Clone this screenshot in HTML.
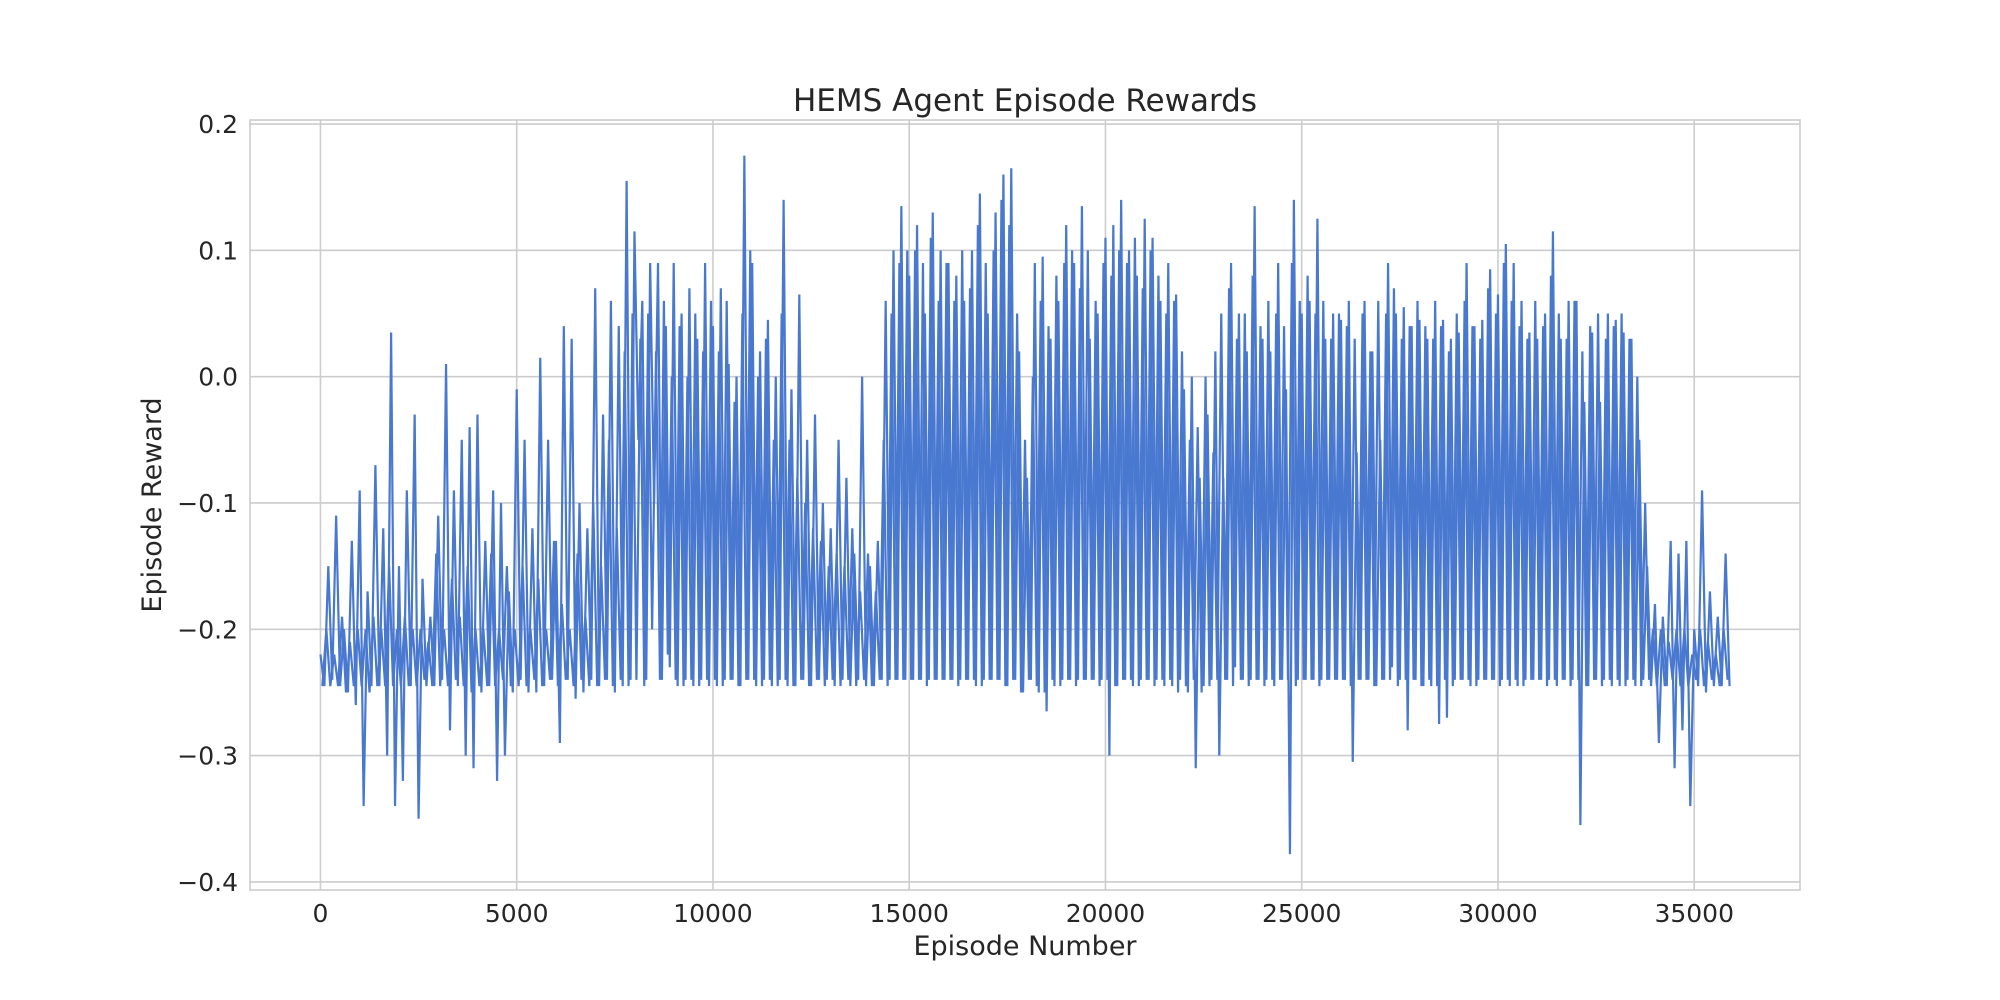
<!DOCTYPE html>
<html><head><meta charset="utf-8"><style>
html,body{margin:0;padding:0;background:#fff;}
svg{display:block;font-family:"DejaVu Sans","Liberation Sans",sans-serif;}
</style></head><body>
<svg id="chart" width="2000" height="1000" viewBox="0 0 2000 1000" xmlns="http://www.w3.org/2000/svg">
<rect x="0" y="0" width="2000" height="1000" fill="#fff"/>
<g id="grid"></g>
<g id="series"></g>
<rect x="250" y="120" width="1550" height="770" fill="none" stroke="#cccccc" stroke-width="1.6"/>
<g id="ticks"></g>
<text x="1025" y="111" text-anchor="middle" font-size="31" fill="#262626">HEMS Agent Episode Rewards</text>
<text x="1025" y="955" text-anchor="middle" font-size="27" fill="#262626">Episode Number</text>
<text transform="translate(161,505) rotate(-90)" text-anchor="middle" font-size="27" fill="#262626">Episode Reward</text>
</svg>
<script>
const xTicks = [0, 5000, 10000, 15000, 20000, 25000, 30000, 35000];
const yTicks = [0.2, 0.1, 0.0, -0.1, -0.2, -0.3, -0.4];
const yTickLabels = ["0.2", "0.1", "0.0", "\u22120.1", "\u22120.2", "\u22120.3", "\u22120.4"];
const episodeStep = 100;
// rewards sampled at episodes 0,100,200,...
const rewards = [
-0.22,-0.245,-0.15,-0.24,-0.11,-0.245,-0.20,-0.25,-0.13,-0.26,
-0.09,-0.34,-0.17,-0.245,-0.07,-0.245,-0.12,-0.30,0.035,-0.34,
-0.15,-0.32,-0.09,-0.245,-0.03,-0.35,-0.16,-0.245,-0.19,-0.245,
-0.11,-0.24,0.01,-0.28,-0.09,-0.245,-0.05,-0.30,-0.04,-0.31,
-0.03,-0.25,-0.13,-0.245,-0.09,-0.32,-0.10,-0.30,-0.17,-0.25,
-0.01,-0.24,-0.05,-0.25,-0.12,-0.25,0.015,-0.245,-0.05,-0.24,
-0.13,-0.29,0.04,-0.24,0.03,-0.255,-0.10,-0.25,-0.12,-0.24,
0.07,-0.245,-0.03,-0.24,0.06,-0.25,0.04,-0.245,0.155,-0.24,
0.115,-0.05,0.06,-0.24,0.09,-0.10,0.09,-0.24,0.04,-0.23,
0.09,-0.245,0.05,-0.24,0.07,-0.245,0.03,-0.24,0.09,-0.245,
0.04,-0.245,0.07,-0.24,0.01,-0.24,0.0,-0.245,0.175,-0.24,
0.09,-0.245,0.02,-0.24,0.045,-0.245,0.0,-0.24,0.14,-0.245,
-0.01,-0.245,0.065,-0.24,-0.05,-0.245,-0.03,-0.24,-0.1,-0.24,
-0.12,-0.245,-0.05,-0.24,-0.08,-0.245,-0.14,-0.24,0.0,-0.245,
-0.15,-0.245,-0.13,-0.24,0.06,-0.24,0.10,-0.24,0.135,-0.24,
0.08,-0.24,0.12,-0.24,0.05,-0.24,0.13,-0.24,0.10,-0.24,
0.09,-0.24,0.08,-0.24,0.06,-0.24,0.10,-0.245,0.145,-0.24,
0.05,-0.24,0.13,-0.24,0.16,-0.245,0.165,-0.24,0.02,-0.25,
-0.08,-0.24,0.09,-0.25,0.095,-0.265,0.03,-0.245,0.06,-0.24,
0.12,-0.24,0.09,-0.24,0.135,-0.24,0.03,-0.24,0.05,-0.24,
0.11,-0.30,0.12,-0.245,0.14,-0.24,0.10,-0.245,0.08,-0.24,
0.125,-0.24,0.11,-0.24,0.06,-0.245,0.09,-0.245,0.065,-0.24,
-0.01,-0.25,0.0,-0.31,-0.08,-0.245,-0.03,-0.24,0.02,-0.30,
-0.08,-0.24,0.09,-0.23,0.05,-0.24,0.02,-0.24,0.135,-0.24,
0.03,-0.24,0.02,-0.245,0.09,-0.24,-0.01,-0.378,0.14,-0.24,
0.05,-0.24,0.06,-0.24,0.125,-0.24,0.03,-0.24,0.05,-0.24,
0.045,-0.24,0.06,-0.305,-0.06,-0.24,0.06,-0.24,0.02,-0.245,
-0.05,-0.24,0.09,-0.23,0.05,-0.24,0.055,-0.28,0.04,-0.24,
0.045,-0.245,0.03,-0.245,0.06,-0.275,0.045,-0.27,0.03,-0.24,
0.035,-0.24,0.09,-0.245,0.04,-0.24,0.045,-0.24,0.085,-0.24,
0.065,-0.24,0.105,-0.245,0.09,-0.245,0.06,-0.24,0.035,-0.24,
0.03,-0.24,0.05,-0.24,0.115,-0.245,0.03,-0.24,0.06,-0.24,
0.06,-0.355,-0.02,-0.245,0.035,-0.24,-0.02,-0.24,0.05,-0.245,
0.045,-0.245,0.035,-0.24,0.03,-0.245,-0.05,-0.24,-0.15,-0.245,
-0.18,-0.29,-0.19,-0.245,-0.13,-0.31,-0.14,-0.28,-0.13,-0.34,
-0.20,-0.245,-0.09,-0.25,-0.17,-0.245,-0.19,-0.245,-0.14,-0.245
];
// rewards sampled at episodes 50,150,250,...
const rewardsMid = [
-0.245,-0.2,-0.245,-0.22,-0.245,-0.19,-0.25,-0.21,-0.245,-0.2,
-0.245,-0.2,-0.25,-0.19,-0.245,-0.2,-0.245,-0.15,-0.245,-0.2,
-0.245,-0.19,-0.245,-0.2,-0.245,-0.2,-0.24,-0.21,-0.245,-0.14,
-0.245,-0.2,-0.245,-0.16,-0.24,-0.19,-0.245,-0.15,-0.25,-0.2,
-0.245,-0.2,-0.245,-0.14,-0.245,-0.2,-0.24,-0.15,-0.245,-0.2,
-0.245,-0.15,-0.245,-0.2,-0.24,-0.16,-0.245,-0.2,-0.24,-0.13,
-0.245,-0.18,-0.24,-0.2,-0.245,-0.14,-0.24,-0.19,-0.245,-0.1,
-0.245,-0.15,-0.24,-0.05,-0.245,-0.12,-0.24,0.02,-0.245,0.05,
-0.24,0.03,-0.245,0.05,-0.2,0.02,-0.24,0.06,-0.22,0.0,
-0.24,0.04,-0.245,0.0,-0.24,0.05,-0.245,0.02,-0.24,0.06,
-0.24,0.02,-0.245,0.06,-0.24,-0.02,-0.245,0.05,-0.24,0.1,
-0.24,0.0,-0.245,0.03,-0.24,-0.05,-0.245,0.05,-0.24,-0.05,
-0.245,-0.08,-0.24,-0.1,-0.245,-0.12,-0.24,-0.13,-0.245,-0.15,
-0.24,-0.14,-0.245,-0.15,-0.24,-0.12,-0.245,-0.17,-0.24,-0.14,
-0.245,-0.17,-0.24,-0.05,-0.245,0.05,-0.24,0.09,-0.24,0.1,
-0.24,0.1,-0.24,0.09,-0.245,0.11,-0.24,0.06,-0.24,0.09,
-0.24,0.06,-0.245,0.1,-0.24,0.07,-0.24,0.12,-0.245,0.09,
-0.24,0.1,-0.24,0.14,-0.245,0.12,-0.24,0.05,-0.25,-0.05,
-0.24,0.0,-0.245,0.06,-0.25,0.04,-0.24,0.08,-0.245,0.09,
-0.24,0.1,-0.245,0.07,-0.24,0.1,-0.24,0.06,-0.245,0.09,
-0.24,0.08,-0.245,0.1,-0.24,0.09,-0.24,0.11,-0.245,0.07,
-0.24,0.1,-0.245,0.08,-0.24,0.05,-0.24,0.06,-0.25,0.02,
-0.245,-0.05,-0.24,-0.04,-0.25,0.0,-0.245,-0.06,-0.24,0.05,
-0.24,0.07,-0.245,0.03,-0.24,0.05,-0.245,0.08,-0.24,0.04,
-0.245,0.06,-0.24,0.05,-0.24,0.04,-0.24,0.09,-0.245,0.06,
-0.24,0.08,-0.24,0.05,-0.245,0.06,-0.24,0.03,-0.24,0.05,
-0.24,0.04,-0.245,0.03,-0.24,0.05,-0.24,0.02,-0.245,0.06,
-0.24,0.05,-0.24,0.07,-0.245,0.03,-0.24,0.04,-0.24,0.06,
-0.245,0.04,-0.24,0.03,-0.245,0.04,-0.24,0.02,-0.245,0.05,
-0.24,0.06,-0.24,0.04,-0.245,0.03,-0.24,0.07,-0.24,0.05,
-0.245,0.09,-0.24,0.06,-0.24,0.04,-0.245,0.03,-0.24,0.06,
-0.24,0.04,-0.245,0.08,-0.24,0.05,-0.24,0.03,-0.245,0.06,
-0.24,0.02,-0.245,0.04,-0.24,0.05,-0.245,0.03,-0.24,0.04,
-0.24,0.05,-0.245,0.03,-0.24,0.0,-0.245,-0.1,-0.24,-0.2,
-0.245,-0.2,-0.245,-0.21,-0.24,-0.2,-0.245,-0.2,-0.245,-0.22,
-0.24,-0.2,-0.245,-0.21,-0.24,-0.22,-0.245,-0.2,-0.24,-0.245
];

const NS = "http://www.w3.org/2000/svg";
const PL = 250, PR = 1800, PT = 120, PB = 890;
const xMin = -1795, xMax = 37695;
const yMin = -0.4064, yMax = 0.2032;
function xs(v){ return PL + (v - xMin) / (xMax - xMin) * (PR - PL); }
function ys(v){ return PB - (v - yMin) / (yMax - yMin) * (PB - PT); }
function mk(tag, attrs){ const e = document.createElementNS(NS, tag); for (const k in attrs) e.setAttribute(k, attrs[k]); return e; }

const grid = document.getElementById('grid');
const ticks = document.getElementById('ticks');
xTicks.forEach(function(t){
  const l = mk('line', {x1: xs(t), x2: xs(t), y1: PT, y2: PB, stroke: '#cccccc', 'stroke-width': 1.6});
  
  
  grid.appendChild(l);
  const tx = mk('text', {x: xs(t), y: 922, 'text-anchor': 'middle', 'font-size': 25, fill: '#262626'});
  tx.textContent = String(t);
  
  
  ticks.appendChild(tx);
});
yTicks.forEach(function(t, i){
  const l = mk('line', {x1: PL, x2: PR, y1: ys(t), y2: ys(t), stroke: '#cccccc', 'stroke-width': 1.6});
  
  
  grid.appendChild(l);
  const tx = mk('text', {x: 238, y: ys(t) + 9, 'text-anchor': 'end', 'font-size': 25, fill: '#262626'});
  tx.textContent = yTickLabels[i];
  
  
  ticks.appendChild(tx);
});
const ptsA = rewards.map(function(v, i){ return xs(i * episodeStep).toFixed(2) + ',' + ys(v).toFixed(2); }).join(' ');
const ptsB = rewardsMid.slice(0, rewards.length - 1).map(function(v, i){ return xs(i * episodeStep + episodeStep / 2).toFixed(2) + ',' + ys(v).toFixed(2); }).join(' ');
const lineA = mk('polyline', {points: ptsA, fill: 'none', stroke: '#4878d0', 'stroke-width': 2.2, 'stroke-linejoin': 'miter', 'stroke-miterlimit': 2});


document.getElementById('series').appendChild(lineA);
const lineB = mk('polyline', {points: ptsB, fill: 'none', stroke: '#4878d0', 'stroke-width': 2.2, 'stroke-linejoin': 'miter', 'stroke-miterlimit': 2});


document.getElementById('series').appendChild(lineB);
</script>
</body></html>
